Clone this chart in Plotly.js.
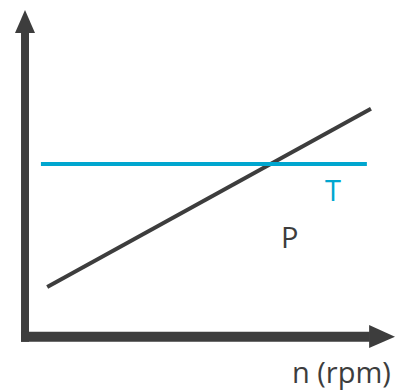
<!DOCTYPE html>
<html>
<head>
<meta charset="utf-8">
<script src="https://cdn.plot.ly/plotly-3.0.1.min.js"></script>
<style>
  html, body { margin: 0; padding: 0; background: #fff; }
  #chart { width: 395px; height: 392px; }
</style>
</head>
<body>
<div id="chart"></div>
<script>
// speed axis (arbitrary units, 0 = origin of the drawn axes)
var nP = [6, 93.5];
var powerP = [14.6, 67.6];
var nT = [4.3, 92.4];
var torqueT = [51.2, 51.2];

var dark = "#3d3d3d";
var teal = "#00a6cf";

var traceP = {
    x: nP,
    y: powerP,
    mode: "lines",
    line: {color: dark, width: 4},
    hoverinfo: "skip"
};

var traceT = {
    x: nT,
    y: torqueT,
    mode: "lines",
    line: {color: teal, width: 4},
    hoverinfo: "skip"
};

// axes with arrow heads, drawn as shapes
var shapes = [
    {type: "rect", x0: -1.08, x1: 1.08, y0: -1.7, y1: 90.5, fillcolor: dark, line: {width: 0}},
    {type: "path", path: "M -2.7 90.2 L 2.7 90.2 L 0 97 Z", fillcolor: dark, line: {width: 0}},
    {type: "rect", x0: -1.08, x1: 93.2, y0: -1.7, y1: 1.28, fillcolor: dark, line: {width: 0}},
    {type: "path", path: "M 93 3.3 L 93 -3.6 L 100 -0.2 Z", fillcolor: dark, line: {width: 0}}
];

var font = "Open Sans, Noto Sans, sans-serif";

var annotations = [
    {x: 83.2, y: 43.5, text: "T", showarrow: false, font: {family: font, size: 29, color: teal}},
    {x: 71.6, y: 29.5, text: "P", showarrow: false, font: {family: font, size: 29, color: dark}},
    {xref: "paper", x: 0.995, y: -10.6, xanchor: "right", yanchor: "middle", text: "n (rpm)",
     showarrow: false, font: {family: font, size: 29, color: dark}}
];

var layout = {
    width: 395,
    height: 392,
    margin: {l: 0, r: 0, t: 0, b: 0},
    paper_bgcolor: "#fff",
    plot_bgcolor: "#fff",
    showlegend: false,
    xaxis: {range: [-6.76, 100], visible: false, fixedrange: true},
    yaxis: {range: [-16.67, 100], visible: false, fixedrange: true},
    shapes: shapes,
    annotations: annotations
};

Plotly.newPlot("chart", [traceP, traceT], layout, {displayModeBar: false, staticPlot: true});
</script>
</body>
</html>
